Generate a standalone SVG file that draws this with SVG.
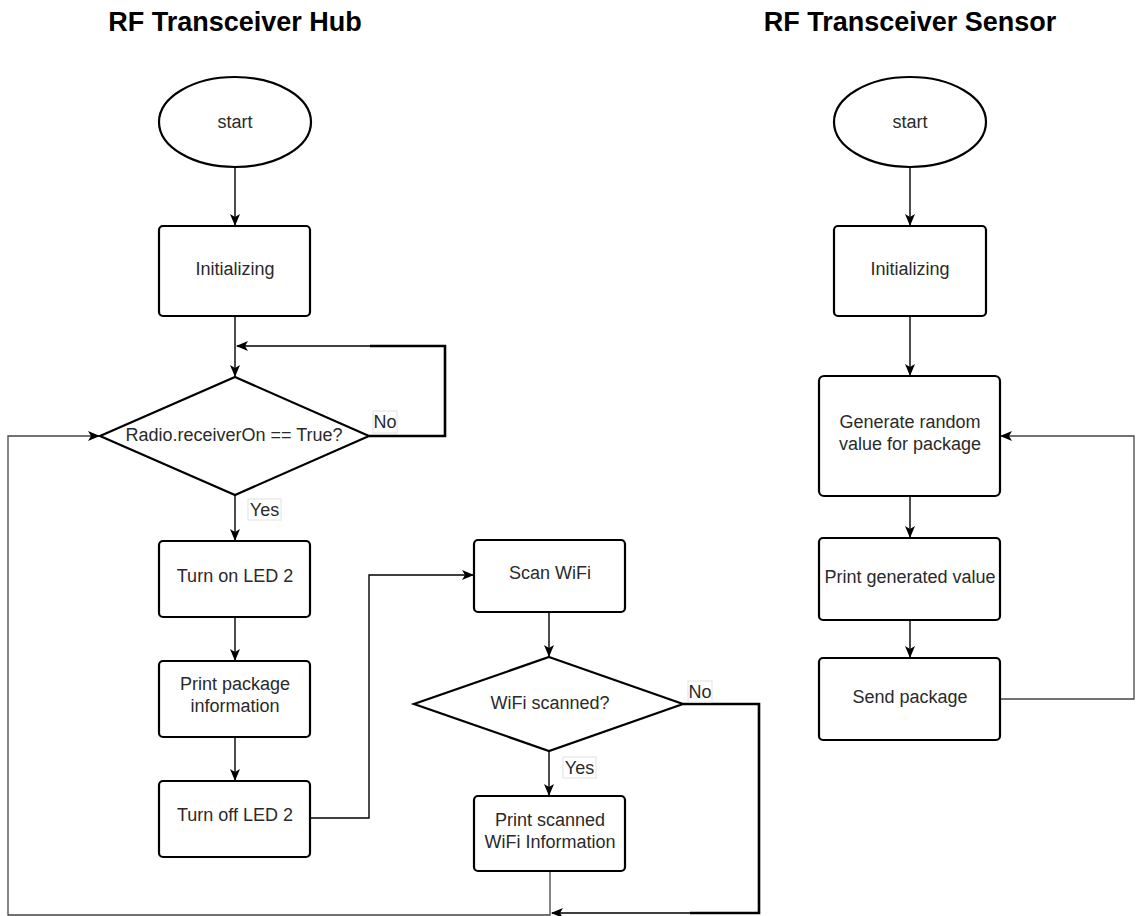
<svg xmlns="http://www.w3.org/2000/svg" width="1138" height="916" viewBox="0 0 1138 916">
  <style>
    .title { font-family: "Liberation Sans", Arial, sans-serif; font-weight: bold; font-size: 27px; fill: #000; text-anchor: middle; }
    .lbl { font-family: "Liberation Sans", Arial, sans-serif; font-size: 18px; fill: #2a2a2a; text-anchor: middle; }
    .shape { fill: #fff; stroke: #000; stroke-width: 2.2; }
    .edge { fill: none; stroke: #000; stroke-width: 1.4; }
    .edge-grey { fill: none; stroke: #444; stroke-width: 1.3; }
    .edge-bold { fill: none; stroke: #000; stroke-width: 2.6; }
    .tag { fill: #fff; stroke: #e2e2e2; stroke-width: 1; }
  </style>
  <defs>
    <marker id="arrow" viewBox="0 0 12 10" refX="11" refY="5" markerWidth="12" markerHeight="10" markerUnits="userSpaceOnUse" orient="auto">
      <path d="M0,0 L12,5 L0,10 L3,5 Z" fill="#000"/>
    </marker>
  </defs>
  <rect width="1138" height="916" fill="#fff"/>

  <!-- titles -->
  <text class="title" x="235" y="31">RF Transceiver Hub</text>
  <text class="title" x="910" y="31">RF Transceiver Sensor</text>

  <!-- connectors -->
  <g id="connectors">
    <!-- hub -->
    <path class="edge" d="M235,167 V225" marker-end="url(#arrow)"/>
    <path class="edge" d="M235,316 V376" marker-end="url(#arrow)"/>
    <path class="edge" d="M369,436 H445 V346 H237" marker-end="url(#arrow)"/>
    <path class="edge-bold" d="M370,346 H445 V436 H369"/>
    <path class="edge" d="M235,495 V540" marker-end="url(#arrow)"/>
    <path class="edge" d="M235,617 V660" marker-end="url(#arrow)"/>
    <path class="edge" d="M235,737 V780" marker-end="url(#arrow)"/>
    <path class="edge" d="M310,818 H369 V575 H473" marker-end="url(#arrow)"/>
    <path class="edge" d="M549,612 V656" marker-end="url(#arrow)"/>
    <path class="edge" d="M549,751 V795" marker-end="url(#arrow)"/>
    <path class="edge" d="M683,704 H759 V913 H552" marker-end="url(#arrow)"/>
    <path class="edge-bold" d="M683,704 H759 V913 H690"/>
    <path class="edge-grey" d="M550,871 V915 H8 V436 H99" marker-end="url(#arrow)"/>
    <!-- sensor -->
    <path class="edge" d="M910,167 V225" marker-end="url(#arrow)"/>
    <path class="edge" d="M910,316 V375" marker-end="url(#arrow)"/>
    <path class="edge" d="M910,496 V537" marker-end="url(#arrow)"/>
    <path class="edge" d="M910,620 V657" marker-end="url(#arrow)"/>
    <path class="edge-grey" d="M1000,699 H1134 V436 H1001" marker-end="url(#arrow)"/>
  </g>

  <!-- hub nodes -->
  <g id="hub-start">
    <ellipse class="shape" cx="235" cy="122" rx="76" ry="45"/>
    <text class="lbl" x="235" y="128">start</text>
  </g>
  <g id="hub-init">
    <rect class="shape" x="159" y="226" width="151" height="90" rx="4"/>
    <text class="lbl" x="235" y="275">Initializing</text>
  </g>
  <g id="hub-receiver-check">
    <polygon class="shape" points="235,377 369,436 235,495 100,436"/>
    <text class="lbl" x="234" y="441">Radio.receiverOn == True?</text>
  </g>
  <g id="hub-led-on">
    <rect class="shape" x="159" y="541" width="151" height="76" rx="4"/>
    <text class="lbl" x="235" y="582">Turn on LED 2</text>
  </g>
  <g id="hub-print-package">
    <rect class="shape" x="159" y="661" width="151" height="76" rx="4"/>
    <text class="lbl" x="235" y="690">Print package</text>
    <text class="lbl" x="235" y="712">information</text>
  </g>
  <g id="hub-led-off">
    <rect class="shape" x="159" y="781" width="151" height="76" rx="4"/>
    <text class="lbl" x="235" y="821">Turn off LED 2</text>
  </g>
  <g id="hub-scan-wifi">
    <rect class="shape" x="474" y="540" width="151" height="72" rx="4"/>
    <text class="lbl" x="550" y="579">Scan WiFi</text>
  </g>
  <g id="hub-wifi-check">
    <polygon class="shape" points="549,657 683,704 549,751 414,704"/>
    <text class="lbl" x="550" y="709">WiFi scanned?</text>
  </g>
  <g id="hub-print-wifi">
    <rect class="shape" x="474" y="796" width="151" height="75" rx="4"/>
    <text class="lbl" x="550" y="826">Print scanned</text>
    <text class="lbl" x="550" y="848">WiFi Information</text>
  </g>

  <!-- branch labels -->
  <g id="label-no-receiver">
    <rect class="tag" x="373" y="411" width="24" height="22"/>
    <text class="lbl" x="385" y="428">No</text>
  </g>
  <g id="label-yes-receiver">
    <rect class="tag" x="248" y="499" width="33" height="21"/>
    <text class="lbl" x="264.5" y="516">Yes</text>
  </g>
  <g id="label-no-wifi">
    <rect class="tag" x="688" y="681" width="24" height="21"/>
    <text class="lbl" x="700" y="698">No</text>
  </g>
  <g id="label-yes-wifi">
    <rect class="tag" x="563" y="757" width="33" height="21"/>
    <text class="lbl" x="579.5" y="774">Yes</text>
  </g>

  <!-- sensor nodes -->
  <g id="sensor-start">
    <ellipse class="shape" cx="910" cy="122" rx="76" ry="45"/>
    <text class="lbl" x="910" y="128">start</text>
  </g>
  <g id="sensor-init">
    <rect class="shape" x="834" y="226" width="152" height="90" rx="4"/>
    <text class="lbl" x="910" y="275">Initializing</text>
  </g>
  <g id="sensor-generate">
    <rect class="shape" x="819" y="376" width="181" height="120" rx="5"/>
    <text class="lbl" x="910" y="428">Generate random</text>
    <text class="lbl" x="910" y="450">value for package</text>
  </g>
  <g id="sensor-print">
    <rect class="shape" x="819" y="538" width="181" height="82" rx="4"/>
    <text class="lbl" x="910" y="583">Print generated value</text>
  </g>
  <g id="sensor-send">
    <rect class="shape" x="819" y="658" width="181" height="82" rx="4"/>
    <text class="lbl" x="910" y="703">Send package</text>
  </g>
</svg>
